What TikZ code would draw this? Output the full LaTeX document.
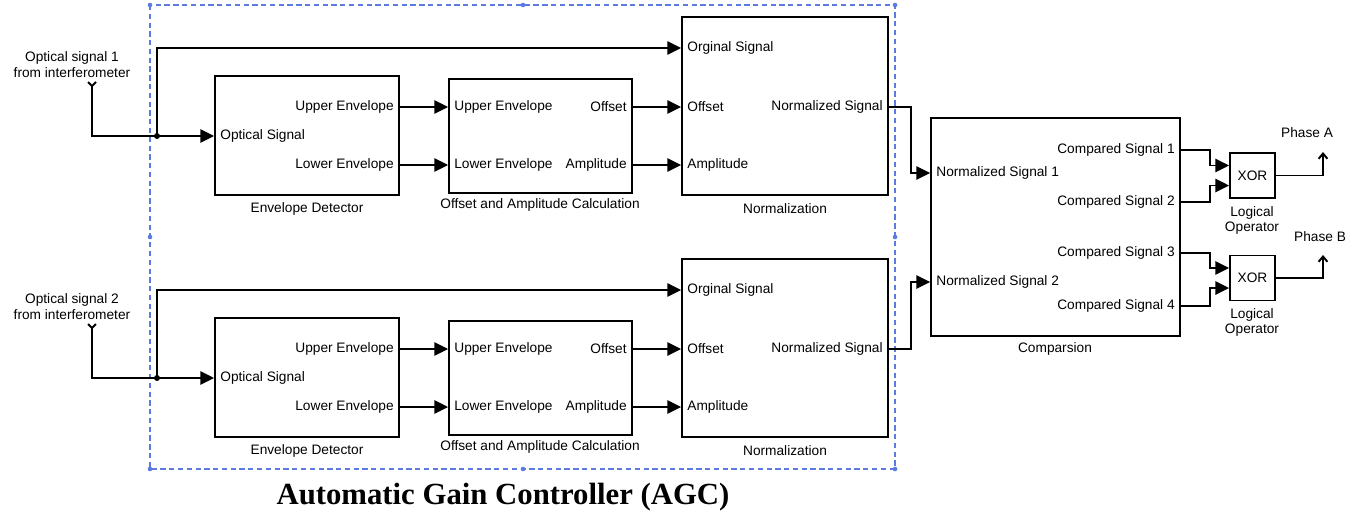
\documentclass[tikz,border=0pt]{standalone}
\usepackage{fontspec}
\setmainfont{Liberation Sans}
\newfontfamily\titlefont{Liberation Serif}
\usetikzlibrary{arrows.meta}
\definecolor{agcblue}{HTML}{5B7BE0}

\begin{document}
\begin{tikzpicture}[x=0.02cm,y=-0.02cm]
    \tikzstyle{every node}=[font=\fontsize{7.8}{9}\selectfont]
    \tikzstyle{block}=[draw,line width=1.1pt,inner sep=0pt]
    \tikzstyle{sig}=[line width=1.1pt,-{Triangle[length=7.8pt,width=7.6pt]}]
    \tikzstyle{wire}=[line width=1.1pt]
    \tikzstyle{outsig}=[line width=1.1pt,-{Straight Barb[length=3pt,width=5pt]}]
    \tikzstyle{lft}=[anchor=west,inner sep=0pt]
    \tikzstyle{rgt}=[anchor=east,inner sep=0pt]
    \useasboundingbox (0,0) rectangle (1364,517);

    % AGC frame with its handles
    \draw[agcblue,line width=0.6pt,dash pattern=on 3pt off 2pt] (150,5) rectangle (895,469);
    \foreach \hx/\hy in {150/5,523/5,895/5,150/237,895/237,150/469,523/469,895/469}
      \fill[agcblue] (\hx,\hy) circle (1.3pt);

    % the two AGC rows
    \foreach \r/\dy in {1/0,2/242}{
      \node[align=center] (src\r) at (72,65+\dy) {Optical signal \r\\from interferometer};
      \coordinate (fk\r) at (92,86+\dy);
      \coordinate (jn\r) at (157,136+\dy);

      \node[block,minimum width=3.68cm,minimum height=2.38cm] (ed\r) at (307,135.5+\dy) {};
      \node[lft] (edi\r) at (220,136+\dy) {Optical Signal};
      \node[rgt] (edu\r) at (394,107+\dy) {Upper Envelope};
      \node[rgt] (edl\r) at (394,165+\dy) {Lower Envelope};
      \node (edt\r) at (307,209+\dy) {Envelope Detector};

      \node[block,minimum width=3.66cm,minimum height=2.28cm] (oa\r) at (540.5,136+\dy) {};
      \node[lft] (oau\r) at (454,107+\dy) {Upper Envelope};
      \node[lft] (oal\r) at (454,165+\dy) {Lower Envelope};
      \node[rgt] (oao\r) at (627,107+\dy) {Offset};
      \node[rgt] (oaa\r) at (627,165+\dy) {Amplitude};
      \node (oat\r) at (540,205+\dy) {Offset and Amplitude Calculation};

      \node[block,minimum width=4.12cm,minimum height=3.56cm] (nm\r) at (785,106+\dy) {};
      \node[lft] (nmg\r) at (687,48+\dy) {Orginal Signal};
      \node[lft] (nmo\r) at (687,107+\dy) {Offset};
      \node[lft] (nma\r) at (687,165+\dy) {Amplitude};
      \node[rgt] (nmn\r) at (883,107+\dy) {Normalized Signal};
      \node (nmt\r) at (785,209+\dy) {Normalization};

      \draw[wire] ([shift={(-4,-4)}]fk\r) -- (fk\r) -- ([shift={(4,-4)}]fk\r);
      \draw[sig] (fk\r) |- (ed\r.west |- edi\r);
      \draw[sig] (jn\r) |- (nm\r.west |- nmg\r);
      \fill (jn\r) circle (1.7pt);
      \draw[sig] (ed\r.east |- edu\r) -- (oa\r.west |- oau\r);
      \draw[sig] (ed\r.east |- edl\r) -- (oa\r.west |- oal\r);
      \draw[sig] (oa\r.east |- oao\r) -- (nm\r.west |- nmo\r);
      \draw[sig] (oa\r.east |- oaa\r) -- (nm\r.west |- nma\r);
    }

    % comparison stage
    \node[block,minimum width=4.98cm,minimum height=4.36cm] (cmp) at (1055.5,227) {};
    \node[lft] (cn1) at (936,173) {Normalized Signal 1};
    \node[lft] (cn2) at (936,282) {Normalized Signal 2};
    \node[rgt] (cs1) at (1175,150) {Compared Signal 1};
    \node[rgt] (cs2) at (1175,202) {Compared Signal 2};
    \node[rgt] (cs3) at (1175,253) {Compared Signal 3};
    \node[rgt] (cs4) at (1175,306) {Compared Signal 4};
    \node (cmpt) at (1055,349) {Comparsion};

    \draw[sig] (nm1.east |- nmn1) -- ++(22,0) |- (cmp.west |- cn1);
    \draw[sig] (nm2.east |- nmn2) -- ++(22,0) |- (cmp.west |- cn2);

    % XOR gates
    \node[block,minimum size=0.9cm] (xor1) at (1252.5,175.5) {XOR};
    \node[block,minimum size=0.9cm] (xor2) at (1252.5,278) {XOR};
    \node[align=center] (lo1) at (1252,220.5) {Logical\\Operator};
    \node[align=center] (lo2) at (1252,322.5) {Logical\\Operator};
    \coordinate (x1u) at ([yshift=5.7pt]xor1.west);
    \coordinate (x1d) at ([yshift=-5.7pt]xor1.west);
    \coordinate (x2u) at ([yshift=5.7pt]xor2.west);
    \coordinate (x2d) at ([yshift=-5.7pt]xor2.west);
    \draw[sig] (cmp.east |- cs1) -- ++(29,0) |- (x1u);
    \draw[sig] (cmp.east |- cs2) -- ++(29,0) |- (x1d);
    \draw[sig] (cmp.east |- cs3) -- ++(29,0) |- (x2u);
    \draw[sig] (cmp.east |- cs4) -- ++(29,0) |- (x2d);

    \node (pha) at (1307,133) {Phase A};
    \node (phb) at (1320,237) {Phase B};
    \coordinate (pa) at (1323,152);
    \coordinate (pb) at (1323,255);
    \draw[outsig] (xor1.east) -| (pa);
    \draw[outsig] (xor2.east) -| (pb);

    \node[font=\titlefont\bfseries\fontsize{17.5}{20}\selectfont] (agc) at (503,497) {Automatic Gain Controller (AGC)};
\end{tikzpicture}
\end{document}
